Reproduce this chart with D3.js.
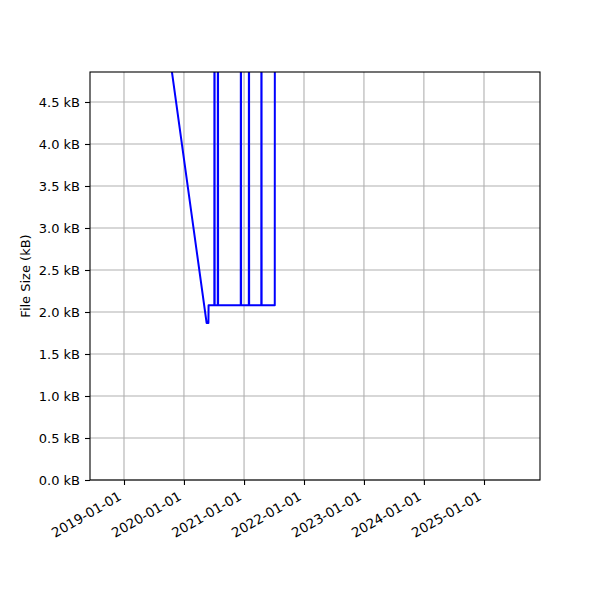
<!DOCTYPE html>
<html lang="en">
<head>
  <meta charset="UTF-8">
  <title>File Size over Time</title>
  <script src="https://d3js.org/d3.v7.min.js"></script>
  <style>
    body {
      margin: 0;
      background: #fff;
      font-family: "DejaVu Sans", sans-serif;
    }
    svg {
      display: block;
    }
  </style>
</head>
<body>

<div id="chart"></div>

<script>
  // Commit dates and file sizes (kB); spikes run above the axes and get clipped
  const dates = [
    "2019-08-15", "2020-05-18", "2020-05-29", "2020-05-30",
    "2020-07-04", "2020-07-05", "2020-07-06",
    "2020-07-25", "2020-07-26", "2020-07-27",
    "2020-12-12", "2020-12-13", "2020-12-14",
    "2021-01-30", "2021-01-31", "2021-02-01",
    "2021-04-16", "2021-04-17", "2021-04-18",
    "2021-07-07", "2021-07-08"
  ];
  const sizes = [
    5.79, 1.87, 1.87, 2.08,
    2.08, 9.0, 2.08,
    2.08, 9.0, 2.08,
    2.08, 9.0, 2.08,
    2.08, 9.0, 2.08,
    2.08, 9.0, 2.08,
    2.08, 9.0
  ];

  // Axis limits and tick labels
  const xLimits = ["2018-06-08", "2025-12-08"];
  const yLimits = [0, 4.857];
  const xTickLabels = ["2019-01-01", "2020-01-01", "2021-01-01", "2022-01-01",
                       "2023-01-01", "2024-01-01", "2025-01-01"];
  const yTickValues = [0, 0.5, 1.0, 1.5, 2.0, 2.5, 3.0, 3.5, 4.0, 4.5];

  const parseDate = d3.utcParse("%Y-%m-%d");
  const data = dates.map((d, i) => ({ date: parseDate(d), size: sizes[i] }));

  const width = 600, height = 600;
  const margin = { top: 72, right: 60, bottom: 120, left: 90 };
  const innerW = width - margin.left - margin.right;
  const innerH = height - margin.top - margin.bottom;

  const x = d3.scaleUtc()
    .domain(xLimits.map(parseDate))
    .range([0, innerW]);

  const y = d3.scaleLinear()
    .domain(yLimits)
    .range([innerH, 0]);

  const svg = d3.select("#chart")
    .append("svg")
    .attr("width", width)
    .attr("height", height);

  const g = svg.append("g")
    .attr("transform", `translate(${margin.left},${margin.top})`);

  // Grid lines
  g.append("g")
    .selectAll("line")
    .data(xTickLabels)
    .join("line")
    .attr("x1", d => x(parseDate(d)))
    .attr("x2", d => x(parseDate(d)))
    .attr("y1", 0)
    .attr("y2", innerH)
    .attr("stroke", "#b0b0b0")
    .attr("stroke-width", 1.1);

  g.append("g")
    .selectAll("line")
    .data(yTickValues)
    .join("line")
    .attr("x1", 0)
    .attr("x2", innerW)
    .attr("y1", d => y(d))
    .attr("y2", d => y(d))
    .attr("stroke", "#b0b0b0")
    .attr("stroke-width", 1.1);

  // Clip the line to the axes box
  svg.append("defs").append("clipPath")
    .attr("id", "clip")
    .append("rect")
    .attr("width", innerW)
    .attr("height", innerH);

  const line = d3.line()
    .x(d => x(d.date))
    .y(d => y(d.size));

  g.append("path")
    .datum(data)
    .attr("clip-path", "url(#clip)")
    .attr("fill", "none")
    .attr("stroke", "#0000ff")
    .attr("stroke-width", 2)
    .attr("stroke-linejoin", "round")
    .attr("d", line);

  // Y axis
  const yAxis = g.append("g")
    .call(d3.axisLeft(y)
      .tickValues(yTickValues)
      .tickFormat(d => d3.format(".1f")(d) + " kB")
      .tickSize(5)
      .tickPadding(5));
  yAxis.select(".domain").remove();
  yAxis.selectAll("line").attr("stroke", "#000").attr("stroke-width", 1.1);
  yAxis.selectAll("text")
    .attr("font-family", "DejaVu Sans")
    .attr("font-size", 13)
    .attr("fill", "#000");

  // X axis, labels rotated like autofmt_xdate
  const xAxis = g.append("g")
    .attr("transform", `translate(0,${innerH})`)
    .call(d3.axisBottom(x)
      .tickValues(xTickLabels.map(parseDate))
      .tickFormat(d3.utcFormat("%Y-%m-%d"))
      .tickSize(5));
  xAxis.select(".domain").remove();
  xAxis.selectAll("line").attr("stroke", "#000").attr("stroke-width", 1.1);
  xAxis.selectAll("text")
    .attr("font-family", "DejaVu Sans")
    .attr("font-size", 13.4)
    .attr("fill", "#000")
    .attr("text-anchor", "end")
    .attr("dy", null)
    .attr("y", null)
    .attr("transform", "translate(-2,19) rotate(-30)");

  // Axes frame
  g.append("rect")
    .attr("width", innerW)
    .attr("height", innerH)
    .attr("fill", "none")
    .attr("stroke", "#000")
    .attr("stroke-width", 1.1);

  // Y label
  svg.append("text")
    .attr("transform", `translate(30,${margin.top + innerH / 2}) rotate(-90)`)
    .attr("text-anchor", "middle")
    .attr("font-family", "DejaVu Sans")
    .attr("font-size", 13)
    .text("File Size (kB)");
</script>

</body>
</html>
